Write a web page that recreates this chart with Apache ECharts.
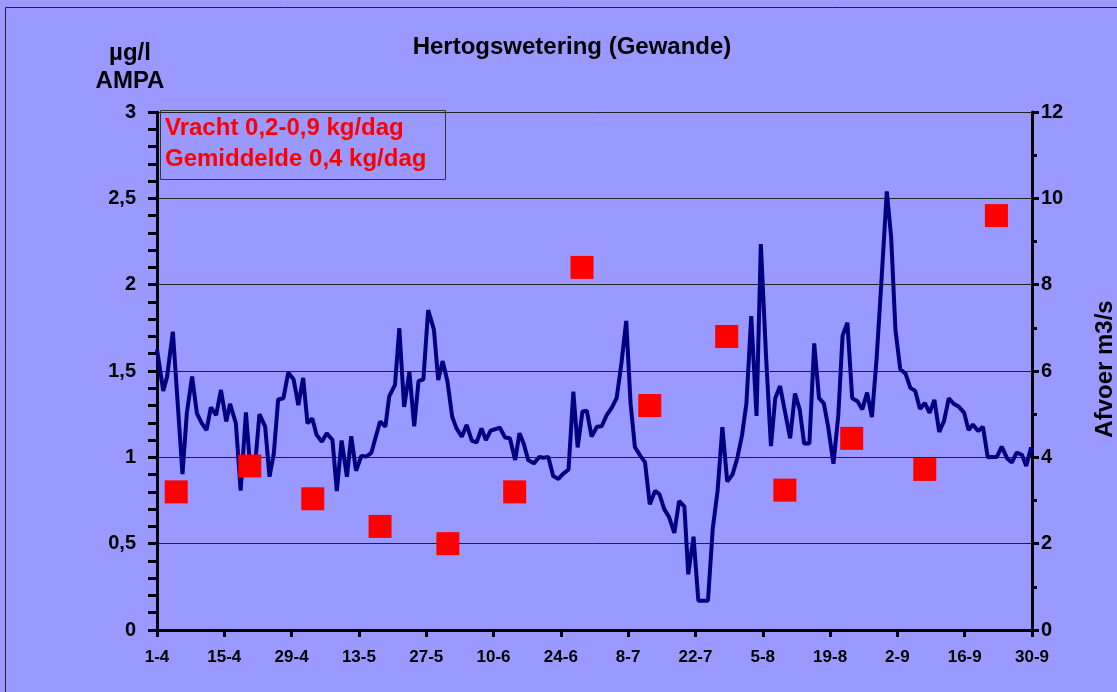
<!DOCTYPE html>
<html>
<head>
<meta charset="utf-8">
<script src="https://cdn.jsdelivr.net/npm/echarts@6/dist/echarts.min.js"></script>
<style>
html,body{margin:0;padding:0;background:#9999FF;}
#c{width:1117px;height:692px;}
</style>
</head>
<body>
<div id="c"></div>
<script>
// X tick labels (every 14 days from 1 April)
const tickLabels = ['1-4','15-4','29-4','13-5','27-5','10-6','24-6','8-7','22-7','5-8','19-8','2-9','16-9','30-9'];

// AMPA concentration samples (µg/l): day since 1 April, value
const ampaDay = [4, 19.3, 32.4, 46.4, 60.5, 74.4, 88.4, 102.5, 118.5, 130.6, 144.5, 159.7, 174.6];
const ampaVal = [0.80, 0.95, 0.76, 0.60, 0.50, 0.80, 2.10, 1.30, 1.70, 0.81, 1.11, 0.93, 2.40];

// Discharge (Afvoer m3/s): day since 1 April, value
const flowDay = [0,1.3,2.1,3.3,5.3,6.2,7.3,8.3,9.3,10.3,11.2,12.3,13.3,14.4,15.2,16.4,17.4,18.5,19.3,20.5,21.3,22.5,23.4,24.3,25.2,26.3,27.3,28.4,29.4,30.4,31.3,32.3,33.2,34.3,35.3,36.5,37.4,38.4,39.5,40.4,41.4,42.5,43.6,44.6,46.4,47.5,48.3,49.5,50.4,51.4,52.5,53.5,54.4,55.4,56.4,57.6,58.5,59.4,60.4,61.4,62.3,63.4,64.4,65.5,66.5,67.5,68.4,69.4,70.3,71.3,72.4,73.4,74.5,75.4,76.3,77.2,78.4,79.5,80.4,81.4,82.4,83.5,84.4,85.6,86.6,87.5,88.5,89.4,90.4,91.5,92.5,93.5,94.6,95.6,96.6,97.6,98.5,99.4,100.5,101.5,102.5,103.6,104.5,105.5,106.5,107.6,108.6,109.7,110.5,111.6,112.6,113.6,114.6,115.6,116.6,117.6,118.6,119.7,120.7,121.7,122.6,123.6,124.7,125.6,126.7,127.7,128.6,129.6,130.6,131.7,132.7,133.7,134.6,135.7,136.7,137.7,138.7,139.6,140.7,141.7,142.6,143.6,144.6,145.7,146.7,147.7,148.7,149.7,150.7,151.8,152.7,153.6,154.6,155.7,156.7,157.7,158.7,159.7,160.7,161.7,162.7,163.7,164.7,165.7,166.8,167.9,168.8,169.7,170.8,171.8,172.8,173.7,174.7,175.7,176.8,177.8,178.8,179.9,180.8,181.8,182];
const flowVal = [6.50,5.54,5.87,6.91,3.61,5.02,5.87,5.02,4.79,4.63,5.16,4.98,5.56,4.83,5.24,4.79,3.23,5.04,3.88,3.94,5.00,4.71,3.55,4.09,5.34,5.37,5.96,5.81,5.21,5.84,4.79,4.90,4.52,4.36,4.56,4.40,3.22,4.39,3.55,4.49,3.69,4.03,4.02,4.11,4.83,4.71,5.41,5.68,6.99,5.17,5.98,4.72,5.77,5.80,7.41,6.96,5.79,6.23,5.77,4.94,4.67,4.48,4.75,4.38,4.35,4.67,4.40,4.62,4.65,4.69,4.46,4.44,3.94,4.56,4.31,3.94,3.86,4.01,3.99,4.01,3.57,3.50,3.61,3.72,5.52,4.23,5.06,5.08,4.48,4.71,4.72,4.97,5.15,5.37,6.18,7.16,5.25,4.24,4.04,3.89,2.91,3.22,3.15,2.80,2.62,2.25,2.99,2.86,1.29,2.16,0.68,0.68,0.68,2.35,3.22,4.70,3.44,3.60,3.98,4.52,5.25,7.27,4.96,8.94,6.30,4.26,5.37,5.65,5.07,4.44,5.48,5.10,4.32,4.32,6.64,5.37,5.25,4.71,3.85,4.96,6.82,7.12,5.37,5.30,5.11,5.50,4.93,6.32,8.11,10.16,9.10,6.95,6.04,5.94,5.61,5.54,5.12,5.26,5.03,5.33,4.59,4.84,5.37,5.24,5.17,5.03,4.63,4.76,4.61,4.71,4.00,4.01,4.01,4.25,3.98,3.88,4.11,4.06,3.80,4.23,4.12];

const title = 'Hertogswetering (Gewande)';
const boxLines = ['Vracht 0,2-0,9 kg/dag', 'Gemiddelde 0,4 kg/dag'];

const FONT = '"Liberation Sans", Arial, sans-serif';
const chart = echarts.init(document.getElementById('c'));

const ampaData = ampaDay.map((d, i) => [d, ampaVal[i]]);
const flowData = flowDay.map((d, i) => [d, flowVal[i]]);

chart.setOption({
  backgroundColor: '#9999FF',
  animation: false,
  title: {
    text: title, left: 567, top: 30, textAlign: 'center',
    textStyle: {fontFamily: FONT, fontWeight: 'bold', fontSize: 24, color: '#000'}
  },
  grid: {left: 157, right: 85, top: 112, bottom: 62, containLabel: false},
  xAxis: {
    type: 'value', min: 0, max: 182, interval: 14,
    axisLine: {lineStyle: {color: '#000', width: 3}},
    axisTick: {show: true, length: 7, lineStyle: {color: '#000', width: 3}},
    splitLine: {show: false},
    axisLabel: {
      margin: 19, fontFamily: FONT, fontWeight: 'bold', fontSize: 17, color: '#000',
      formatter: v => tickLabels[Math.round(v / 14)] || ''
    }
  },
  yAxis: [
    {
      type: 'value', min: 0, max: 3, interval: 0.5, position: 'left',
      axisLine: {show: true, lineStyle: {color: '#000', width: 3}},
      axisTick: {show: true, length: 9, lineStyle: {color: '#000', width: 3}},
      minorTick: {show: true, splitNumber: 5, length: 9, lineStyle: {color: '#000', width: 3}},
      splitLine: {show: true, lineStyle: {color: '#222', width: 1}},
      axisLabel: {
        margin: 21, fontFamily: FONT, fontWeight: 'bold', fontSize: 20, color: '#000',
        formatter: v => String(v).replace('.', ',')
      }
    },
    {
      type: 'value', min: 0, max: 12, interval: 2, position: 'right',
      axisLine: {show: true, lineStyle: {color: '#000', width: 3}},
      axisTick: {show: true, length: 7, lineStyle: {color: '#000', width: 3}},
      minorTick: {show: true, splitNumber: 2, length: 5, lineStyle: {color: '#000', width: 3}},
      splitLine: {show: false},
      axisLabel: {
        margin: 9, fontFamily: FONT, fontWeight: 'bold', fontSize: 20, color: '#000'
      }
    }
  ],
  series: [
    {
      type: 'line', yAxisIndex: 1, data: flowData, showSymbol: false,
      lineStyle: {color: '#000080', width: 4}, z: 3
    },
    {
      type: 'scatter', yAxisIndex: 0, data: ampaData, symbol: 'rect', symbolSize: 23,
      itemStyle: {color: '#FF0000', opacity: 1}, z: 4
    }
  ],
  graphic: [
    {type: 'rect', shape: {x: 5.5, y: 7.5, width: 1300, height: 900},
     style: {fill: 'none', stroke: '#222', lineWidth: 1}, silent: true},
    {type: 'text', x: 130, y: 41, style: {text: 'µg/l', fontFamily: FONT, fontWeight: 'bold', fontSize: 24, fill: '#000', textAlign: 'center'}},
    {type: 'text', x: 130, y: 69, style: {text: 'AMPA', fontFamily: FONT, fontWeight: 'bold', fontSize: 24, fill: '#000', textAlign: 'center'}},
    {type: 'text', x: 1105, y: 369, rotation: Math.PI / 2,
     style: {text: 'Afvoer m3/s', fontFamily: FONT, fontWeight: 'bold', fontSize: 24, fill: '#000', textAlign: 'center', textVerticalAlign: 'middle'}},
    {type: 'rect', shape: {x: 160.5, y: 110.5, width: 285, height: 69},
     style: {fill: 'none', stroke: '#333', lineWidth: 1}, z: 10},
    {type: 'text', x: 165, y: 116, z: 10, style: {text: boxLines[0], fontFamily: FONT, fontWeight: 'bold', fontSize: 24, fill: '#FF0000'}},
    {type: 'text', x: 165, y: 147, z: 10, style: {text: boxLines[1], fontFamily: FONT, fontWeight: 'bold', fontSize: 24, fill: '#FF0000'}}
  ]
});
</script>
</body>
</html>
